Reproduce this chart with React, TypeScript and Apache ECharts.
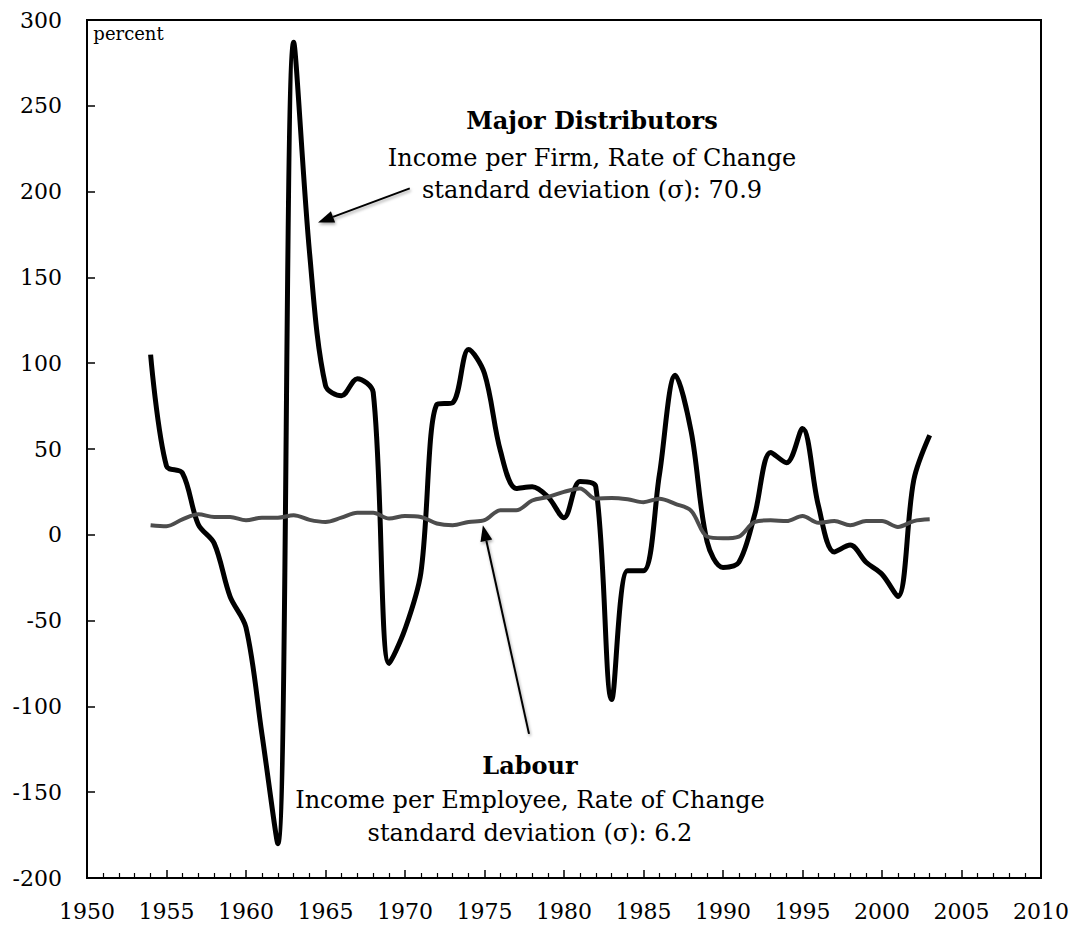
import React, { useEffect, useRef } from "react";
import * as echarts from "echarts";

const years: number[] = [
  1954, 1955, 1956, 1957, 1958, 1959, 1960, 1961, 1962, 1963,
  1964, 1965, 1966, 1967, 1968, 1969, 1970, 1971, 1972, 1973,
  1974, 1975, 1976, 1977, 1978, 1979, 1980, 1981, 1982, 1983,
  1984, 1985, 1986, 1987, 1988, 1989, 1990, 1991, 1992, 1993,
  1994, 1995, 1996, 1997, 1998, 1999, 2000, 2001, 2002, 2003,
];

const majorDistributors: number[] = [
  105, 40, 36, 6, -5, -36, -54, -116, -180, 287,
  164, 87, 81, 91, 83, -75, -55, -22, 76, 77,
  108, 94, 49, 27, 28, 22, 10, 31, 28, -96,
  -21, -21, 35, 93, 60, -4, -19, -16, 12, 48,
  42, 62, 17, -10, -6, -16, -23, -36, 32, 58,
];

const labour: number[] = [
  5.6, 5, 9, 12, 10.4, 10.4, 8.5, 10, 10, 11.4,
  8.7, 7.5, 10, 12.8, 12.8, 9.5, 11, 10.4, 6.6, 5.6,
  7.5, 8.5, 14.3, 14.3, 20, 22, 25, 27, 21, 21.5,
  20.7, 19, 21, 18, 14, -1, -2, -1, 7.5, 8.5,
  8, 11, 7, 8, 5.6, 8, 8, 4.6, 8, 9,
];

const xTicks = { min: 1950, max: 2010, interval: 5 };
const yTicks = { min: -200, max: 300, interval: 50 };

const majorTextLines: string[] = [
  "Major Distributors",
  "Income per Firm, Rate of Change",
  "standard deviation (σ): 70.9",
];
const labourTextLines: string[] = [
  "Labour",
  "Income per Employee, Rate of Change",
  "standard deviation (σ): 6.2",
];

const FONT = "'DejaVu Serif', 'Liberation Serif', serif";

export default function App() {
  const ref = useRef<HTMLDivElement>(null);

  useEffect(() => {
    if (!ref.current) return;
    const chart = echarts.init(ref.current, undefined, { renderer: "svg" });

    chart.setOption({
      animation: false,
      backgroundColor: "#fff",
      grid: {
        left: 87,
        right: 34,
        top: 20,
        bottom: 47,
        show: true,
        borderColor: "#000",
        borderWidth: 2,
        backgroundColor: "transparent",
      },
      xAxis: {
        type: "value",
        min: xTicks.min,
        max: xTicks.max,
        interval: xTicks.interval,
        axisLine: { show: true, onZero: false, lineStyle: { color: "#000", width: 2 } },
        axisTick: { show: true, inside: true, length: 8, lineStyle: { color: "#000", width: 1.5 } },
        minorTick: { show: true, splitNumber: 5, length: 5, lineStyle: { color: "#000", width: 1.2 } },
        splitLine: { show: false },
        axisLabel: {
          color: "#000",
          fontFamily: FONT,
          fontSize: 22,
          margin: 22,
          formatter: (v: number) => String(v),
        },
      },
      yAxis: {
        type: "value",
        min: yTicks.min,
        max: yTicks.max,
        interval: yTicks.interval,
        axisLine: { show: true, onZero: false, lineStyle: { color: "#000", width: 2 } },
        axisTick: { show: true, inside: true, length: 8, lineStyle: { color: "#000", width: 1.5 } },
        splitLine: { show: false },
        axisLabel: {
          color: "#000",
          fontFamily: FONT,
          fontSize: 22,
          margin: 25,
        },
      },
      series: [
        {
          name: "Major Distributors",
          type: "line",
          data: years.map((y, i) => [y, majorDistributors[i]]),
          showSymbol: false,
          symbol: "none",
          smooth: 0.33,
          lineStyle: { color: "#000", width: 5 },
          z: 2,
        },
        {
          name: "Labour",
          type: "line",
          data: years.map((y, i) => [y, labour[i]]),
          showSymbol: false,
          symbol: "none",
          smooth: 0.33,
          lineStyle: { color: "#4d4d4d", width: 4 },
          z: 3,
        },
      ],
    });

    const px = (x: number, y: number): number[] =>
      chart.convertToPixel({ gridIndex: 0 }, [x, y]) as number[];

    const arrow = (from: number[], to: number[]) => {
      const a = px(from[0], from[1]);
      const b = px(to[0], to[1]);
      const dx = b[0] - a[0];
      const dy = b[1] - a[1];
      const len = Math.sqrt(dx * dx + dy * dy);
      const ux = dx / len;
      const uy = dy / len;
      const L = 16;
      const W = 12;
      const bx = b[0] - ux * L;
      const by = b[1] - uy * L;
      const nx = -uy;
      const ny = ux;
      const shadow = {
        shadowBlur: 3,
        shadowColor: "rgba(0,0,0,0.35)",
        shadowOffsetX: 1,
        shadowOffsetY: 2,
      };
      return [
        {
          type: "line",
          shape: { x1: a[0], y1: a[1], x2: bx, y2: by },
          style: { stroke: "#000", lineWidth: 2, ...shadow },
          z: 10,
        },
        {
          type: "polygon",
          shape: {
            points: [
              [b[0], b[1]],
              [bx + (nx * W) / 2, by + (ny * W) / 2],
              [bx - (nx * W) / 2, by - (ny * W) / 2],
            ],
          },
          style: { fill: "#000", ...shadow },
          z: 10,
        },
      ];
    };

    const textBlock = (cx: number, ys: number[], lines: string[]) =>
      lines.map((t, i) => {
        const p = px(cx, ys[i]);
        return {
          type: "text",
          x: p[0],
          y: p[1],
          z: 11,
          style: {
            text: t,
            fill: "#000",
            font: `${i === 0 ? "bold " : ""}24px ${FONT}`,
            align: "center",
            verticalAlign: "middle",
            textAlign: "center",
            textVerticalAlign: "middle",
          },
        };
      });

    const pLabel = px(1950.4, 292);

    chart.setOption({
      graphic: [
        {
          type: "text",
          x: pLabel[0],
          y: pLabel[1],
          z: 11,
          style: {
            text: "percent",
            fill: "#000",
            font: `18px ${FONT}`,
            align: "left",
            verticalAlign: "middle",
            textAlign: "left",
            textVerticalAlign: "middle",
          },
        },
        ...textBlock(1981.76, [241.4, 219.3, 200.7], majorTextLines),
        ...textBlock(1977.86, [-134.2, -154.6, -173.8], labourTextLines),
        ...arrow([1970.3, 201.9], [1964.53, 182]),
        ...arrow([1977.8, -116], [1974.9, 5.6]),
      ],
    });

    return () => {
      chart.dispose();
    };
  }, []);

  return (
    <div
      ref={ref}
      style={{ position: "fixed", left: 0, top: 0, width: 1075, height: 925 }}
    />
  );
}
